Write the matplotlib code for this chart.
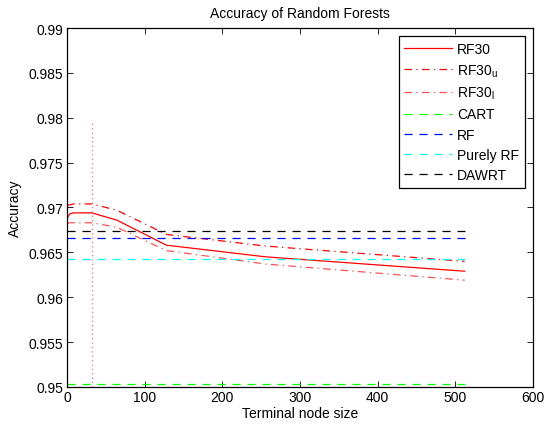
import numpy as np
import matplotlib
matplotlib.use("Agg")
import matplotlib.pyplot as plt
from matplotlib.ticker import FuncFormatter

plt.rcParams['font.family'] = ['Liberation Sans', 'DejaVu Sans']
plt.rcParams['mathtext.fontset'] = 'custom'
plt.rcParams['mathtext.rm'] = 'Liberation Sans'

# tamaños de nodo terminal
node_size = [1, 2, 4, 8, 16, 32, 64, 128, 256, 512]

# RF30 y sus bandas
rf30 = [0.9689, 0.9691, 0.9693, 0.9694, 0.9694, 0.9694, 0.9686, 0.9658, 0.9645, 0.9629]
rf30_u = [0.9702, 0.9703, 0.9703, 0.9704, 0.9704, 0.9704, 0.9697, 0.9670, 0.9657, 0.9640]
rf30_l = [0.9682, 0.9683, 0.9683, 0.9683, 0.9683, 0.9683, 0.9678, 0.9652, 0.9637, 0.9619]

# referencias constantes
cart = 0.95035
rf = 0.96656
purely_rf = 0.96427
dawrt = 0.96738

# linea vertical en el mejor tamaño
best_size = 32
vline_range = [0.95, 0.9797]

fig = plt.figure(figsize=(5.48, 4.31), dpi=100)
ax = fig.add_axes([0.1223, 0.0998, 0.8503, 0.8329])

ax.plot(node_size, rf30, color='red', lw=0.9, label='RF30')
ax.plot(node_size, rf30_u, color='red', lw=0.9, dashes=(6, 3.5, 1, 3.5), label='RF30$_\\mathregular{u}$')
ax.plot(node_size, rf30_l, color='#ff5050', lw=0.9, dashes=(6, 3.5, 1, 3.5), label='RF30$_\\mathregular{l}$')

# las horizontales van de 0 al último tamaño
xr = [node_size[0] - 1, node_size[-1]]
ax.plot(xr, [cart, cart], color='#00ff00', lw=0.9, dashes=(6.5, 5.5), label='CART')
ax.plot(xr, [rf, rf], color='blue', lw=0.9, dashes=(6.5, 5.5), label='RF')
ax.plot(xr, [purely_rf, purely_rf], color='cyan', lw=0.9, dashes=(6.5, 5.5), label='Purely RF')
ax.plot(xr, [dawrt, dawrt], color='black', lw=0.9, dashes=(6.5, 5.5), label='DAWRT')

ax.plot([best_size, best_size], vline_range, color='#ff7070', lw=0.9, dashes=(1, 2.5))

ax.set_xlim(0, 600)
ax.set_ylim(0.95, 0.99)
ax.set_xticks(range(0, 601, 100))
ax.set_yticks(np.arange(0.95, 0.9901, 0.005))
ax.yaxis.set_major_formatter(FuncFormatter(lambda v, p: f"{v:.3f}".rstrip('0')))
ax.tick_params(direction='in', top=True, right=True, labelsize=10, length=4, width=0.6, pad=2.5)
for s in ax.spines.values():
    s.set_linewidth(0.9)

ax.set_xlabel('Terminal node size', fontsize=10, labelpad=1)
ax.set_ylabel('Accuracy', fontsize=10, labelpad=5)
ax.set_title('Accuracy of Random Forests', fontsize=10, pad=8)

leg = ax.legend(loc='upper right', fontsize=10, handlelength=3.4, fancybox=False,
                framealpha=1, edgecolor='black', borderaxespad=0.6, labelspacing=0.45,
                handletextpad=0.4)
leg.get_frame().set_linewidth(0.9)

fig.savefig('out.png', dpi=100)
